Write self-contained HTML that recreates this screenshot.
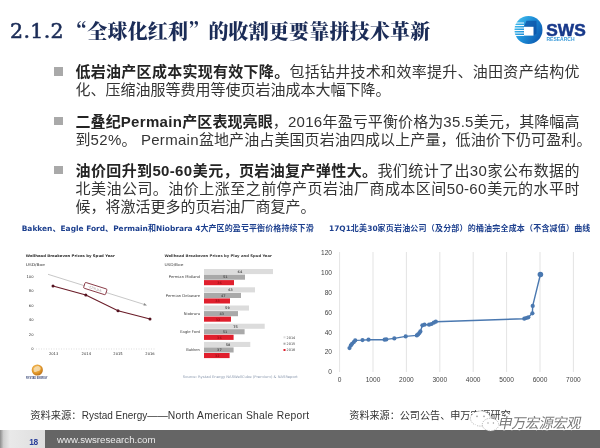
<!DOCTYPE html>
<html lang="zh-CN">
<head>
<meta charset="utf-8">
<title>2.1.2 全球化红利</title>
<style>
html,body{margin:0;padding:0;}
body{width:600px;height:448px;overflow:hidden;background:#fff;position:relative;
  font-family:"Liberation Sans","Noto Sans CJK SC",sans-serif;color:#333;}
.abs{position:absolute;white-space:nowrap;}
#title{left:10px;top:17px;font-family:"Liberation Serif","Noto Serif CJK SC",serif;font-weight:900;
  font-size:20px;line-height:28px;color:#1b2c57;letter-spacing:0.18px;word-spacing:-2px;}
#title .num{font-family:"DejaVu Serif","Liberation Serif",serif;font-weight:400;font-size:20.5px;letter-spacing:0.35px;-webkit-text-stroke:0.55px #1b2c57;position:relative;top:-1px;}
#title .q{font-family:"Noto Serif CJK SC",serif;}
.bl{left:75.5px;font-size:15px;line-height:18px;color:#343434;}
.bl b{font-weight:700;color:#242424;}
.sq{position:absolute;left:53.5px;width:9px;height:8.5px;background:#a9a9a9;}
.j{width:504px;text-align:justify;text-align-last:justify;white-space:nowrap;}
.en{letter-spacing:0.3px;}
.cap{font-family:"DejaVu Sans","Noto Sans CJK SC",sans-serif;font-size:8px;font-weight:700;color:#1c3f8e;line-height:12px;}
.cap{letter-spacing:0.1px;}
.cap .l{font-size:7.45px;letter-spacing:0;}
.src{font-size:10.3px;line-height:14px;color:#333;}
.src .l{letter-spacing:0.28px;}
.src .l1{font-size:10px;}
#foot{position:absolute;left:0;top:430px;width:600px;height:18px;background:#656565;}
#pg{position:absolute;left:0;top:430px;width:45px;height:18px;background:linear-gradient(90deg,#8c8c8c 0%,#cfcfcf 8%,#e9e9e9 22%,#dedede 100%);}
</style>
</head>
<body>
<div id="title" class="abs"><span class="num">2.1.2</span> <span class="q">“</span>全球化红利<span class="q">”</span>的收割更要靠拼技术革新</div>

<svg class="abs" style="left:505px;top:0" width="95" height="50" viewBox="0 0 95 50">
<defs>
<linearGradient id="lg1" x1="0" y1="0.2" x2="1" y2="0.8"><stop offset="0" stop-color="#45c0ee"/><stop offset="0.45" stop-color="#1d8fd8"/><stop offset="1" stop-color="#0b55ad"/></linearGradient>
</defs>
<circle cx="23.5" cy="30" r="14" fill="url(#lg1)"/>
<path d="M19 26.8 L21.5 20.8 H31.5 V33.5 L28.5 35.6 Z" fill="#0c4fa3" opacity="0.7"/>
<g stroke="#ffffff" stroke-width="0.95"><line x1="9.2" y1="23.0" x2="19" y2="23.0"/><line x1="8.6" y1="25.5" x2="19" y2="25.5"/><line x1="8.3" y1="28.0" x2="19" y2="28.0"/><line x1="8.3" y1="30.5" x2="19" y2="30.5"/><line x1="8.6" y1="33.0" x2="19" y2="33.0"/><line x1="9.4" y1="35.5" x2="19" y2="35.5"/></g>
<rect x="19" y="26.8" width="9.5" height="8.8" fill="#ffffff"/>
<text x="41.3" y="35.8" font-family="Liberation Sans, sans-serif" font-weight="700" font-size="17.3" fill="#17388a" stroke="#17388a" stroke-width="0.5" textLength="39.5" lengthAdjust="spacingAndGlyphs">SWS</text>
<text x="41.5" y="40.6" font-family="Liberation Sans, sans-serif" font-weight="700" font-size="4.6" fill="#3a9ad9" textLength="28" lengthAdjust="spacingAndGlyphs">RESEARCH</text>
</svg>

<div class="sq" style="top:67px"></div>
<div class="abs bl j" style="top:62.7px"><b>低岩油产区成本实现有效下降。</b>包括钻井技术和效率提升、油田资产结构优</div>
<div class="abs bl" style="top:80.7px">化、压缩油服等费用等使页岩油成本大幅下降。</div>

<div class="sq" style="top:116.5px"></div>
<div class="abs bl j" style="top:112.7px"><b>二叠纪<span class="en">Permain</span>产区表现亮眼</b>，<span class="en">2016</span>年盈亏平衡价格为<span class="en">35.5</span>美元，其降幅高</div>
<div class="abs bl" style="top:130.7px;letter-spacing:0.1px">到<span class="en">52%</span>。 <span class="en">Permain</span>盆地产油占美国页岩油四成以上产量，低油价下仍可盈利。</div>

<div class="sq" style="top:165.5px"></div>
<div class="abs bl j" style="top:161.8px"><b>油价回升到<span class="en">50-60</span>美元，页岩油复产弹性大。</b>我们统计了出<span class="en">30</span>家公布数据的</div>
<div class="abs bl j" style="top:179.8px">北美油公司。油价上涨至之前停产页岩油厂商成本区间<span class="en">50-60</span>美元的水平时</div>
<div class="abs bl" style="top:197.8px">候，将激活更多的页岩油厂商复产。</div>

<div class="abs cap" style="left:21.7px;top:223.2px"><span class="l">Bakken</span>、<span class="l">Eagle Ford</span>、<span class="l">Permain</span>和<span class="l">Niobrara 4</span>大产区的盈亏平衡价格持续下滑</div>
<div class="abs cap" style="left:329px;top:223.2px;letter-spacing:0.19px"><span class="l">17Q1</span>北美<span class="l">30</span>家页岩油公司（及分部）的桶油完全成本（不含减值）曲线</div>

<!--CHARTS-->
<svg class="abs" style="left:0;top:238px" width="600" height="162" viewBox="0 238 600 162" font-family="Liberation Sans, sans-serif">
<g font-size="4.2" fill="#2c2c2c">
<text x="25.8" y="256.9" font-family="DejaVu Sans, sans-serif" font-weight="700" font-size="3.6" textLength="89" lengthAdjust="spacingAndGlyphs">Wellhead Breakeven Prices by Spud Year</text>
<text x="25.8" y="265.5" font-family="DejaVu Sans, sans-serif" font-size="3.8" textLength="19" lengthAdjust="spacingAndGlyphs">USD/Boe</text>
<text x="33.5" y="277.9" text-anchor="end" font-family="DejaVu Sans, sans-serif" font-size="3.7">100</text>
<text x="33.5" y="292.4" text-anchor="end" font-family="DejaVu Sans, sans-serif" font-size="3.7">80</text>
<text x="33.5" y="307" text-anchor="end" font-family="DejaVu Sans, sans-serif" font-size="3.7">60</text>
<text x="33.5" y="321.4" text-anchor="end" font-family="DejaVu Sans, sans-serif" font-size="3.7">40</text>
<text x="33.5" y="335.9" text-anchor="end" font-family="DejaVu Sans, sans-serif" font-size="3.7">20</text>
<text x="33.5" y="350.4" text-anchor="end" font-family="DejaVu Sans, sans-serif" font-size="3.7">0</text>
<text x="53.6" y="355" text-anchor="middle" font-family="DejaVu Sans, sans-serif" font-size="3.7">2013</text>
<text x="86.3" y="355" text-anchor="middle" font-family="DejaVu Sans, sans-serif" font-size="3.7">2014</text>
<text x="118" y="355" text-anchor="middle" font-family="DejaVu Sans, sans-serif" font-size="3.7">2015</text>
<text x="150" y="355" text-anchor="middle" font-family="DejaVu Sans, sans-serif" font-size="3.7">2016</text>
</g>
<line x1="36" y1="349" x2="156" y2="349" stroke="#c8c8c8" stroke-width="0.6" stroke-dasharray="1 1.5"/>
<line x1="48" y1="274.3" x2="145" y2="304.7" stroke="#b9b9b9" stroke-width="0.8"/>
<path d="M147 305.4 L143.4 305.6 L144.2 303 Z" fill="#8a8a8a"/>
<polyline fill="none" stroke="#6a1c28" stroke-width="1.1" points="53,286 85.8,295 118,310.8 150,319"/>
<circle cx="53" cy="286" r="1.5" fill="#541320"/>
<circle cx="85.8" cy="295" r="1.5" fill="#541320"/>
<circle cx="118" cy="310.8" r="1.5" fill="#541320"/>
<circle cx="150" cy="319" r="1.5" fill="#541320"/>
<g transform="translate(95.3 288.6) rotate(17.5)"><rect x="-11.5" y="-3" width="23" height="6" rx="1" fill="#fff" stroke="#7a2230" stroke-width="0.8"/><text x="0" y="1.2" text-anchor="middle" font-size="3.4" fill="#9a8a8c">-22% p.a.</text></g>
<defs><radialGradient id="rg1" cx="0.4" cy="0.35" r="0.7"><stop offset="0" stop-color="#f6c36a"/><stop offset="0.6" stop-color="#e39a2c"/><stop offset="1" stop-color="#b56a14"/></radialGradient></defs>
<circle cx="37.3" cy="370" r="5.6" fill="url(#rg1)"/>
<path d="M33.5 368.5 q2 -3 5 -2.5 q2.5 0.8 2.2 3 q-1.2 2.6 -3.8 2.2 q-1.2 1.6 -3 0.3 z" fill="#f7e3bd" opacity="0.75"/>
<text x="36.8" y="379.3" text-anchor="middle" font-size="2.9" font-weight="700" fill="#3b4a7a" textLength="21.5" lengthAdjust="spacingAndGlyphs">RYSTAD ENERGY</text>
<g fill="#3a3a3a">
<text x="164.4" y="256.5" font-family="DejaVu Sans, sans-serif" font-weight="700" font-size="3.6" textLength="107.5" lengthAdjust="spacingAndGlyphs">Wellhead Breakeven Prices by Play and Spud Year</text>
<text x="164.4" y="265.9" font-family="DejaVu Sans, sans-serif" font-size="3.8" textLength="19" lengthAdjust="spacingAndGlyphs">USD/Boe</text>
</g>
<text x="200" y="278.4" text-anchor="end" font-family="DejaVu Sans, sans-serif" font-size="3.75" fill="#3a3a3a">Permian Midland</text>
<rect x="204" y="269" width="69" height="5.1" fill="#dcdcdc"/>
<text x="239.9" y="272.9" text-anchor="middle" font-family="DejaVu Sans, sans-serif" font-size="3.3" font-weight="700" fill="#555">64</text>
<rect x="204" y="274.6" width="41" height="5.1" fill="#a9a9a9"/>
<text x="225.3" y="278.4" text-anchor="middle" font-family="DejaVu Sans, sans-serif" font-size="3.3" font-weight="700" fill="#555">51</text>
<rect x="204" y="280.1" width="30" height="5.1" fill="#e01f2d"/>
<text x="219.6" y="284" text-anchor="middle" font-family="DejaVu Sans, sans-serif" font-size="3.3" font-weight="700" fill="#a01018">36</text>
<text x="200" y="296.7" text-anchor="end" font-family="DejaVu Sans, sans-serif" font-size="3.75" fill="#3a3a3a">Permian Delaware</text>
<rect x="204" y="287.3" width="51" height="5.1" fill="#dcdcdc"/>
<text x="230.5" y="291.2" text-anchor="middle" font-family="DejaVu Sans, sans-serif" font-size="3.3" font-weight="700" fill="#555">63</text>
<rect x="204" y="292.9" width="37" height="5.1" fill="#a9a9a9"/>
<text x="223.2" y="296.8" text-anchor="middle" font-family="DejaVu Sans, sans-serif" font-size="3.3" font-weight="700" fill="#555">47</text>
<rect x="204" y="298.4" width="26" height="5.1" fill="#e01f2d"/>
<text x="217.5" y="302.3" text-anchor="middle" font-family="DejaVu Sans, sans-serif" font-size="3.3" font-weight="700" fill="#a01018">33</text>
<text x="200" y="314.9" text-anchor="end" font-family="DejaVu Sans, sans-serif" font-size="3.75" fill="#3a3a3a">Niobrara</text>
<rect x="204" y="305.5" width="45" height="5.1" fill="#dcdcdc"/>
<text x="227.4" y="309.4" text-anchor="middle" font-family="DejaVu Sans, sans-serif" font-size="3.3" font-weight="700" fill="#555">59</text>
<rect x="204" y="311.1" width="34" height="5.1" fill="#a9a9a9"/>
<text x="221.7" y="314.9" text-anchor="middle" font-family="DejaVu Sans, sans-serif" font-size="3.3" font-weight="700" fill="#555">43</text>
<rect x="204" y="316.6" width="27" height="5.1" fill="#e01f2d"/>
<text x="218" y="320.5" text-anchor="middle" font-family="DejaVu Sans, sans-serif" font-size="3.3" font-weight="700" fill="#a01018">32</text>
<text x="200" y="333.1" text-anchor="end" font-family="DejaVu Sans, sans-serif" font-size="3.75" fill="#3a3a3a">Eagle Ford</text>
<rect x="204" y="323.7" width="60.7" height="5.1" fill="#dcdcdc"/>
<text x="235.6" y="327.6" text-anchor="middle" font-family="DejaVu Sans, sans-serif" font-size="3.3" font-weight="700" fill="#555">75</text>
<rect x="204" y="329.2" width="40.6" height="5.1" fill="#a9a9a9"/>
<text x="225.1" y="333.1" text-anchor="middle" font-family="DejaVu Sans, sans-serif" font-size="3.3" font-weight="700" fill="#555">51</text>
<rect x="204" y="334.8" width="29.6" height="5.1" fill="#e01f2d"/>
<text x="219.4" y="338.7" text-anchor="middle" font-family="DejaVu Sans, sans-serif" font-size="3.3" font-weight="700" fill="#a01018">36</text>
<text x="200" y="351.3" text-anchor="end" font-family="DejaVu Sans, sans-serif" font-size="3.75" fill="#3a3a3a">Bakken</text>
<rect x="204" y="341.9" width="46.3" height="5.1" fill="#dcdcdc"/>
<text x="228.1" y="345.8" text-anchor="middle" font-family="DejaVu Sans, sans-serif" font-size="3.3" font-weight="700" fill="#555">58</text>
<rect x="204" y="347.4" width="29.6" height="5.1" fill="#a9a9a9"/>
<text x="219.4" y="351.3" text-anchor="middle" font-family="DejaVu Sans, sans-serif" font-size="3.3" font-weight="700" fill="#555">37</text>
<rect x="204" y="353" width="25.6" height="5.1" fill="#e01f2d"/>
<text x="217.3" y="356.9" text-anchor="middle" font-family="DejaVu Sans, sans-serif" font-size="3.3" font-weight="700" fill="#a01018">32</text>
<rect x="283.5" y="336.3" width="2" height="2" fill="#dcdcdc"/>
<text font-family="DejaVu Sans, sans-serif" x="286.6" y="338.6" font-size="3.4" fill="#3a3a3a">2014</text>
<rect x="283.5" y="342.7" width="2" height="2" fill="#a9a9a9"/>
<text font-family="DejaVu Sans, sans-serif" x="286.6" y="345" font-size="3.4" fill="#3a3a3a">2015</text>
<rect x="283.5" y="349" width="2" height="2" fill="#e01f2d"/>
<text font-family="DejaVu Sans, sans-serif" x="286.6" y="351.3" font-size="3.4" fill="#3a3a3a">2016</text>
<text x="182.8" y="377.9" font-family="DejaVu Sans, sans-serif" font-size="3.5" fill="#8d9bb0" textLength="115" lengthAdjust="spacingAndGlyphs">Source: Rystad Energy NASWellCube (Premium) &amp; NASReport</text>
<line x1="339.6" y1="252" x2="339.6" y2="372" stroke="#dcdcdc" stroke-width="0.8"/>
<text x="339.6" y="382.2" text-anchor="middle" font-size="6.6" fill="#444">0</text>
<line x1="373" y1="252" x2="373" y2="372" stroke="#dcdcdc" stroke-width="0.8"/>
<text x="373" y="382.2" text-anchor="middle" font-size="6.6" fill="#444">1000</text>
<line x1="406.4" y1="252" x2="406.4" y2="372" stroke="#dcdcdc" stroke-width="0.8"/>
<text x="406.4" y="382.2" text-anchor="middle" font-size="6.6" fill="#444">2000</text>
<line x1="439.8" y1="252" x2="439.8" y2="372" stroke="#dcdcdc" stroke-width="0.8"/>
<text x="439.8" y="382.2" text-anchor="middle" font-size="6.6" fill="#444">3000</text>
<line x1="473.2" y1="252" x2="473.2" y2="372" stroke="#dcdcdc" stroke-width="0.8"/>
<text x="473.2" y="382.2" text-anchor="middle" font-size="6.6" fill="#444">4000</text>
<line x1="506.6" y1="252" x2="506.6" y2="372" stroke="#dcdcdc" stroke-width="0.8"/>
<text x="506.6" y="382.2" text-anchor="middle" font-size="6.6" fill="#444">5000</text>
<line x1="540" y1="252" x2="540" y2="372" stroke="#dcdcdc" stroke-width="0.8"/>
<text x="540" y="382.2" text-anchor="middle" font-size="6.6" fill="#444">6000</text>
<line x1="573.4" y1="252" x2="573.4" y2="372" stroke="#dcdcdc" stroke-width="0.8"/>
<text x="573.4" y="382.2" text-anchor="middle" font-size="6.6" fill="#444">7000</text>
<text x="332" y="374.4" text-anchor="end" font-size="6.6" fill="#444">0</text>
<text x="332" y="354.4" text-anchor="end" font-size="6.6" fill="#444">20</text>
<text x="332" y="334.5" text-anchor="end" font-size="6.6" fill="#444">40</text>
<text x="332" y="314.6" text-anchor="end" font-size="6.6" fill="#444">60</text>
<text x="332" y="294.6" text-anchor="end" font-size="6.6" fill="#444">80</text>
<text x="332" y="274.6" text-anchor="end" font-size="6.6" fill="#444">100</text>
<text x="332" y="254.7" text-anchor="end" font-size="6.6" fill="#444">120</text>
<polyline fill="none" stroke="#4a78b0" stroke-width="1.4" stroke-linejoin="round" points="349.5,348.1 350.8,345.4 352.1,343.8 353.8,342.1 355.2,340.4 362.5,340.1 368.5,339.7 384.6,339.7 386.3,339.4 394.3,338.4 405.7,336.4 416.8,335.4 418.1,334.4 419.4,333 420.4,331.4 422.4,325.3 424.5,324.7 429.1,324.7 431.5,324 433.8,322.7 435.8,321.7 524.3,318.7 526.3,318 528.3,317.3 532.4,313.3 532.7,305.9 540.4,274.5"/>
<circle cx="349.5" cy="348.1" r="2.1" fill="#4a78b0"/>
<circle cx="350.8" cy="345.4" r="2.1" fill="#4a78b0"/>
<circle cx="352.1" cy="343.8" r="2.1" fill="#4a78b0"/>
<circle cx="353.8" cy="342.1" r="2.1" fill="#4a78b0"/>
<circle cx="355.2" cy="340.4" r="2.1" fill="#4a78b0"/>
<circle cx="362.5" cy="340.1" r="2.1" fill="#4a78b0"/>
<circle cx="368.5" cy="339.7" r="2.1" fill="#4a78b0"/>
<circle cx="384.6" cy="339.7" r="2.1" fill="#4a78b0"/>
<circle cx="386.3" cy="339.4" r="2.1" fill="#4a78b0"/>
<circle cx="394.3" cy="338.4" r="2.1" fill="#4a78b0"/>
<circle cx="405.7" cy="336.4" r="2.1" fill="#4a78b0"/>
<circle cx="416.8" cy="335.4" r="2.1" fill="#4a78b0"/>
<circle cx="418.1" cy="334.4" r="2.1" fill="#4a78b0"/>
<circle cx="419.4" cy="333" r="2.1" fill="#4a78b0"/>
<circle cx="420.4" cy="331.4" r="2.1" fill="#4a78b0"/>
<circle cx="422.4" cy="325.3" r="2.1" fill="#4a78b0"/>
<circle cx="424.5" cy="324.7" r="2.1" fill="#4a78b0"/>
<circle cx="429.1" cy="324.7" r="2.1" fill="#4a78b0"/>
<circle cx="431.5" cy="324" r="2.1" fill="#4a78b0"/>
<circle cx="433.8" cy="322.7" r="2.1" fill="#4a78b0"/>
<circle cx="435.8" cy="321.7" r="2.1" fill="#4a78b0"/>
<circle cx="524.3" cy="318.7" r="2.1" fill="#4a78b0"/>
<circle cx="526.3" cy="318" r="2.1" fill="#4a78b0"/>
<circle cx="528.3" cy="317.3" r="2.1" fill="#4a78b0"/>
<circle cx="532.4" cy="313.3" r="2.1" fill="#4a78b0"/>
<circle cx="532.7" cy="305.9" r="2.1" fill="#4a78b0"/>
<circle cx="540.4" cy="274.5" r="2.8" fill="#4a78b0"/>
</svg>
<!--/CHARTS-->
<div class="abs src" style="left:30.2px;top:409.2px">资料来源：<span class="l1">Rystad Energy</span>——<span class="l">North American Shale Report</span></div>
<div class="abs src" style="left:349.3px;top:408.6px;font-size:10.1px">资料来源：公司公告、申万宏源研究</div>

<div id="foot"></div>
<div id="pg"></div>
<svg class="abs" style="left:455px;top:395px" width="145" height="40" viewBox="455 395 145 40">
<g fill="#ffffff" stroke="#9a9a9a" stroke-width="0.7" stroke-dasharray="1.2 1.1">
<ellipse cx="480.5" cy="418.5" rx="10" ry="7.6"/>
<path d="M474 424.6 L472.6 428.4 L477.4 425.8 Z" stroke-dasharray="none" stroke="none"/>
<ellipse cx="490.5" cy="424.6" rx="8.2" ry="6.3"/>
</g>
<g fill="#9a9a9a"><circle cx="477" cy="416.4" r="0.8"/><circle cx="484" cy="416.4" r="0.8"/><circle cx="488" cy="423" r="0.7"/><circle cx="493.4" cy="423" r="0.7"/></g>
<text x="0" y="0" transform="translate(497.5 428) skewX(-12)" font-family="Liberation Sans, Noto Sans CJK SC, sans-serif" font-size="14.2" font-weight="400" fill="#7a7a7a" stroke="#ffffff" stroke-width="2.2" paint-order="stroke" stroke-linejoin="round" textLength="83" lengthAdjust="spacing">申万宏源宏观</text>
</svg>

<div class="abs" style="left:29.3px;top:435px;font-size:8.4px;line-height:14px;color:#2a3f9a;font-weight:700;letter-spacing:-0.5px">18</div>
<div class="abs" style="left:57px;top:433.2px;font-size:9.7px;line-height:14px;color:#ececec">www.swsresearch.com</div>
</body>
</html>
